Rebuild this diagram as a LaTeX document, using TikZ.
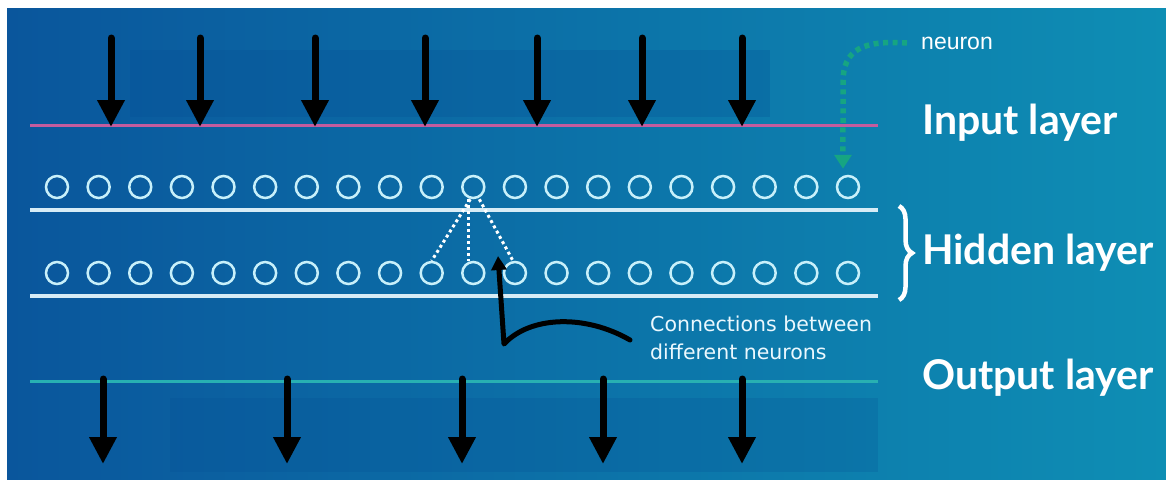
\documentclass[tikz,border=0pt]{standalone}
\usepackage{fontspec}
\setmainfont{Lato}
\newfontfamily\notefont{DejaVu Sans}
\newfontfamily\tagfont{Liberation Sans}
\usepackage{tikz}
\usetikzlibrary{arrows.meta, positioning, decorations.pathreplacing}

\definecolor{bgleft}{RGB}{10,86,156}
\definecolor{bgright}{RGB}{14,142,180}
\definecolor{shadowblue}{RGB}{5,78,148}
\definecolor{inputline}{RGB}{196,92,158}
\definecolor{hiddenline}{RGB}{215,236,246}
\definecolor{outputline}{RGB}{40,176,178}
\definecolor{cellring}{RGB}{200,240,250}
\definecolor{pointer}{RGB}{22,165,130}

\tikzset{
  cell/.style={circle, draw=cellring, line width=2.5pt, minimum size=22pt, inner sep=0pt},
  feed/.style={line width=7pt, line cap=round, -{Triangle[width=26pt,length=27pt]}},
  layer/.style={anchor=west, inner sep=0pt, text=white,
    font=\fontsize{41}{46}\selectfont\bfseries},
  link/.style={white, line width=3pt, dash pattern=on 3pt off 3pt},
}

\begin{document}
\begin{tikzpicture}[x=1pt, y=-1pt]
\useasboundingbox (0,0) rectangle (1166,479);
% Background
\shade[left color=bgleft, right color=bgright] (7,8) rectangle (1166,479);
\fill[shadowblue, opacity=0.25] (130,50) rectangle (770,117);
\fill[shadowblue, opacity=0.22] (170,398) rectangle (878,472);

% Layer lines
\draw[inputline, line width=3pt] (30,125) -- (878,125);
\draw[hiddenline, line width=3.5pt] (30,210) -- (878,210);
\draw[hiddenline, line width=3.5pt] (30,296) -- (878,296);
\draw[outputline, line width=3pt] (30,381) -- (878,381);

% Neurons
\foreach \i in {1,...,20} {
  \node[cell] (t\i) at ({57+41.63*(\i-1)},187) {};
  \node[cell] (b\i) at ({57+41.63*(\i-1)},273) {};
}

% Input arrows
\foreach \x [count=\i] in {111,200,315,425,537,642,742} {
  \coordinate (in\i) at (\x,38);
  \coordinate (inend\i) at (\x,127);
  \draw[feed] (in\i) -- (inend\i);
}

% Output arrows
\foreach \x [count=\i] in {103,287,462,603,742} {
  \coordinate (out\i) at (\x,379);
  \coordinate (outend\i) at (\x,464);
  \draw[feed] (out\i) -- (outend\i);
}

% Connections between neurons
\draw[link] ([xshift=-3pt]t11.south) -- (b10.north);
\draw[link] ([xshift=-5pt]t11.south) -- ([xshift=-5pt]b11.north);
\draw[link] ([xshift=6pt]t11.south) -- ([xshift=-2pt]b12.north);

% Pointer to the connections
\coordinate (hooktail) at (630,340);
\coordinate (hooktip) at (498,256);
\draw[line width=5pt, line cap=round, line join=round,
  -{Triangle[width=15pt,length=14pt]}]
  (hooktail) .. controls (585,314) and (530,316) .. (504,344) -- (hooktip);
\node[anchor=north west, align=left, inner sep=0pt, text=white!92!cyan,
  font=\notefont\fontsize{20.5}{28}\selectfont] (conn) at (650,316)
  {Connections between\\different neurons};

% Neuron pointer
\node[anchor=west, inner sep=0pt, text=white, font=\tagfont\fontsize{23}{26}\selectfont]
  (neuron) at (921,43) {neuron};
\draw[pointer, line width=5.5pt, dash pattern=on 5pt off 4.5pt,
  -{Triangle[width=17pt,length=14pt]}, shorten >=6pt]
  ([xshift=-14pt]neuron.west) .. controls (862,40) and (843,50) .. (843,82)
  -- ([xshift=-5pt]t20.north);

% Layer names
\node[layer] (input) at (922,123) {Input layer};
\node[layer] (hidden) at (922,253) {Hidden layer};
\node[layer] (output) at (922,378) {Output layer};
\draw[white, line width=4.5pt, decorate, decoration={brace, amplitude=13pt}]
  (899,206) -- (899,300);
\end{tikzpicture}
\end{document}
